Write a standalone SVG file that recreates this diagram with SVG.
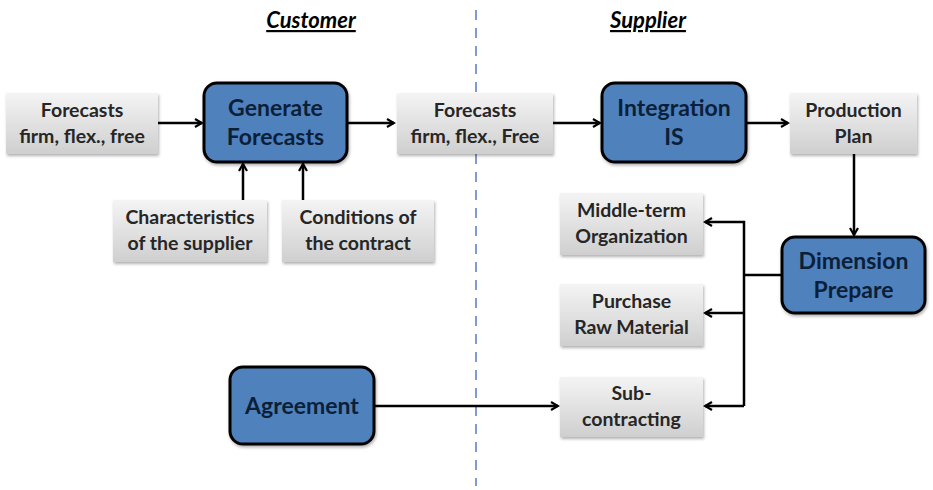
<svg xmlns="http://www.w3.org/2000/svg" width="933" height="490" viewBox="0 0 933 490">
<style>
.grey{fill:url(#gg);filter:url(#sh)}
.blue{fill:#4f81bd;stroke:#000;stroke-width:3;filter:url(#sh)}
.gt{font-family:Lato,"Liberation Sans",sans-serif;font-weight:bold;font-size:19.5px;fill:#262626;text-anchor:middle}
.bt{font-family:Lato,"Liberation Sans",sans-serif;font-weight:bold;font-size:23px;fill:#0c1f38;text-anchor:middle}
.title{font-family:Lato,"Liberation Sans",sans-serif;font-weight:bold;font-style:italic;font-size:22px;fill:#000;text-anchor:middle;text-decoration:underline}
.c{fill:none;stroke:#000;stroke-width:2.5}
</style>
<defs>
<linearGradient id="gg" x1="0" y1="0" x2="0" y2="1">
<stop offset="0" stop-color="#f4f4f4"/>
<stop offset="1" stop-color="#cfcfcf"/>
</linearGradient>
<filter id="sh" x="-10%" y="-10%" width="130%" height="140%">
<feDropShadow dx="1" dy="2" stdDeviation="1.5" flood-color="#000" flood-opacity="0.3"/>
</filter>
<marker id="ar" markerWidth="10" markerHeight="10" refX="8" refY="5" orient="auto" markerUnits="userSpaceOnUse">
<path d="M1,1 L8,5 L1,9" fill="none" stroke="#000" stroke-width="2.2"/>
</marker>
</defs>
<rect width="933" height="490" fill="#fff"/>
<text class="title" x="311" y="28">Customer</text>
<text class="title" x="648" y="28">Supplier</text>
<line x1="476" y1="10" x2="476" y2="486" stroke="#7f9bd0" stroke-width="2" stroke-dasharray="10,8"/>
<g id="connectors">
<line class="c" x1="158" y1="123" x2="202" y2="123" marker-end="url(#ar)"/>
<line class="c" x1="347" y1="123" x2="394" y2="123" marker-end="url(#ar)"/>
<line class="c" x1="243" y1="200" x2="243" y2="164" marker-end="url(#ar)"/>
<line class="c" x1="303" y1="200" x2="303" y2="164" marker-end="url(#ar)"/>
<line class="c" x1="553" y1="123" x2="600" y2="123" marker-end="url(#ar)"/>
<line class="c" x1="746" y1="123" x2="788" y2="123" marker-end="url(#ar)"/>
<line class="c" x1="854" y1="154" x2="854" y2="235" marker-end="url(#ar)"/>
<polyline class="c" points="782,275 744,275"/>
<polyline class="c" points="744,406 744,222 705,222" marker-end="url(#ar)"/>
<line class="c" x1="744" y1="313" x2="705" y2="313" marker-end="url(#ar)"/>
<line class="c" x1="744" y1="406" x2="705" y2="406" marker-end="url(#ar)"/>
<line class="c" x1="374" y1="406" x2="558" y2="406" marker-end="url(#ar)"/>
</g>
<g id="forecasts-in">
<rect class="grey" x="6" y="93" width="152" height="61"/>
<text class="gt" x="82" y="117">Forecasts</text>
<text class="gt" x="82" y="143">firm, flex., free</text>
</g>
<g id="generate-forecasts">
<rect class="blue" x="204" y="83" width="143" height="79" rx="13"/>
<text class="bt" x="275.5" y="116">Generate</text>
<text class="bt" x="275.5" y="145">Forecasts</text>
</g>
<g id="characteristics">
<rect class="grey" x="113" y="200" width="154" height="62"/>
<text class="gt" x="190" y="224">Characteristics</text>
<text class="gt" x="190" y="250">of the supplier</text>
</g>
<g id="conditions">
<rect class="grey" x="282" y="200" width="152" height="62"/>
<text class="gt" x="358" y="224">Conditions of</text>
<text class="gt" x="358" y="250">the contract</text>
</g>
<g id="forecasts-out">
<rect class="grey" x="397" y="93" width="156" height="61"/>
<text class="gt" x="475" y="117">Forecasts</text>
<text class="gt" x="475" y="143">firm, flex., Free</text>
</g>
<g id="integration-is">
<rect class="blue" x="602" y="83" width="144" height="79" rx="13"/>
<text class="bt" x="674" y="116">Integration</text>
<text class="bt" x="674" y="145">IS</text>
</g>
<g id="production-plan">
<rect class="grey" x="790" y="93" width="127" height="61"/>
<text class="gt" x="853.5" y="117">Production</text>
<text class="gt" x="853.5" y="143">Plan</text>
</g>
<g id="middle-term">
<rect class="grey" x="560" y="193" width="143" height="62"/>
<text class="gt" x="631.5" y="217">Middle-term</text>
<text class="gt" x="631.5" y="243">Organization</text>
</g>
<g id="dimension-prepare">
<rect class="blue" x="782" y="237" width="143" height="76" rx="13"/>
<text class="bt" x="853.5" y="269">Dimension</text>
<text class="bt" x="853.5" y="298">Prepare</text>
</g>
<g id="purchase">
<rect class="grey" x="560" y="284" width="143" height="62"/>
<text class="gt" x="631.5" y="308">Purchase</text>
<text class="gt" x="631.5" y="334">Raw Material</text>
</g>
<g id="subcontracting">
<rect class="grey" x="560" y="377" width="143" height="60"/>
<text class="gt" x="631.5" y="400">Sub-</text>
<text class="gt" x="631.5" y="426">contracting</text>
</g>
<g id="agreement">
<rect class="blue" x="230" y="367" width="144" height="77" rx="13"/>
<text class="bt" x="302" y="414">Agreement</text>
</g>
</svg>
